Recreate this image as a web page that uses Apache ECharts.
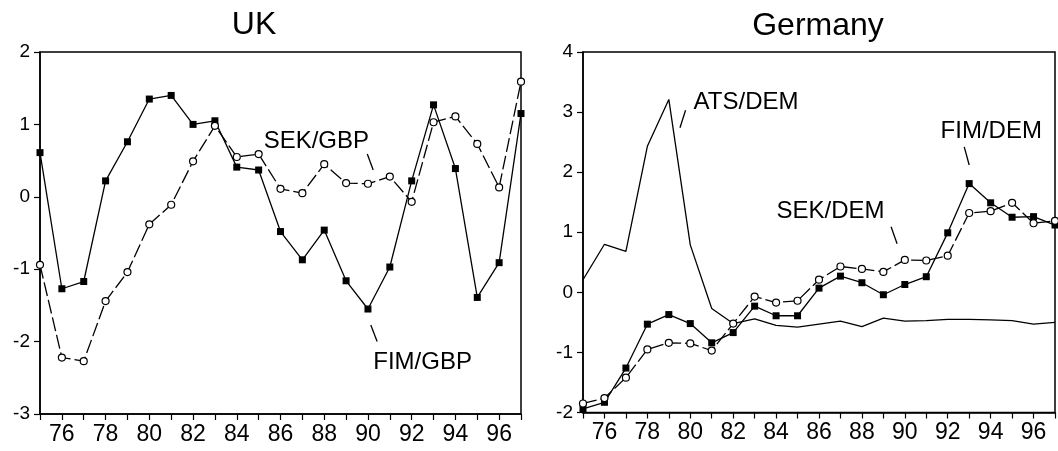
<!DOCTYPE html>
<html><head><meta charset="utf-8">
<script src="https://cdn.jsdelivr.net/npm/echarts@6/dist/echarts.min.js"></script>
<style>html,body{margin:0;padding:0;background:#fff}#c{width:1058px;height:451px}</style>
</head><body><div id="c"></div>
<script>
// ---- data ----
const years = [75,76,77,78,79,80,81,82,83,84,85,86,87,88,89,90,91,92,93,94,95,96,97];
const ukFIM = [0.61,-1.27,-1.17,0.22,0.76,1.35,1.40,1.00,1.05,0.41,0.37,-0.48,-0.87,-0.46,-1.16,-1.55,-0.97,0.22,1.27,0.39,-1.39,-0.91,1.15];
const ukSEK = [-0.94,-2.22,-2.27,-1.44,-1.04,-0.38,-0.11,0.49,0.98,0.55,0.59,0.11,0.05,0.45,0.19,0.18,0.28,-0.07,1.03,1.11,0.73,0.13,1.59];
const deATS = [0.21,0.80,0.68,2.43,3.21,0.79,-0.27,-0.52,-0.44,-0.55,-0.58,-0.53,-0.48,-0.57,-0.43,-0.48,-0.47,-0.45,-0.45,-0.46,-0.47,-0.53,-0.50];
const deFIM = [-1.94,-1.83,-1.26,-0.53,-0.37,-0.52,-0.84,-0.67,-0.23,-0.39,-0.39,0.07,0.27,0.16,-0.04,0.13,0.26,0.99,1.81,1.49,1.25,1.26,1.12];
const deSEK = [-1.85,-1.76,-1.42,-0.95,-0.84,-0.85,-0.97,-0.52,-0.07,-0.17,-0.14,0.21,0.43,0.39,0.34,0.54,0.53,0.61,1.32,1.35,1.49,1.15,1.19];
const titles = ['UK','Germany'];
const ukYTicks = {min:-3, max:2};
const deYTicks = {min:-2, max:4};
// annotation anchors, in data coordinates
const ukNotes = [
  {text:'SEK/GBP', at:[87.64,0.76], tick:[[89.97,0.59],[90.24,0.37]]},
  {text:'FIM/GBP', at:[92.5,-2.29], tick:[[90.13,-1.77],[90.42,-2.0]]}
];
const deNotes = [
  {text:'ATS/DEM', at:[82.6,3.16], tick:[[79.52,2.74],[79.78,3.03]]},
  {text:'SEK/DEM', at:[86.54,1.34], tick:[[89.36,1.09],[89.64,0.81]]},
  {text:'FIM/DEM', at:[94.03,2.68], tick:[[92.77,2.42],[93.0,2.12]]}
];

const FONT = '"Liberation Sans", Arial, sans-serif';
const pairs = a => years.map((y,i)=>[y,a[i]]);
function xAx(gi){
  return {type:'value', gridIndex:gi, min:75, max:97, interval:1,
    axisLine:{show:true,onZero:false,lineStyle:{color:'#000',width:1.5}},
    axisTick:{show:true,length:6,lineStyle:{color:'#000',width:1.2}},
    axisLabel:{fontSize:23,color:'#000',fontFamily:FONT,margin:9,
      formatter:v=> (v%2===0? String(v):'')},
    splitLine:{show:false}};
}
function yAx(gi,r){
  return {type:'value', gridIndex:gi, min:r.min, max:r.max, interval:1,
    axisLine:{show:true,onZero:false,lineStyle:{color:'#000',width:1.5}},
    axisTick:{show:true,length:6,lineStyle:{color:'#000',width:1.2}},
    axisLabel:{fontSize:19,color:'#000',fontFamily:FONT,margin:10},
    splitLine:{show:false}};
}
function sq(name,gi,arr){
  return {name,type:'line',xAxisIndex:gi,yAxisIndex:gi,data:pairs(arr),
    symbol:'rect',symbolSize:7,showAllSymbol:true,
    itemStyle:{color:'#000'},lineStyle:{color:'#000',width:1.3},z:3};
}
function circ(name,gi,arr){
  return {name,type:'line',xAxisIndex:gi,yAxisIndex:gi,data:pairs(arr),
    symbol:'circle',symbolSize:7,showAllSymbol:true,
    itemStyle:{color:'#fff',borderColor:'#000',borderWidth:1.2},
    lineStyle:{color:'#000',width:1.3,type:[14,4]},z:4};
}
const chart = echarts.init(document.getElementById('c'));
chart.setOption({
  animation:false,
  backgroundColor:'#fff',
  grid:[
    {left:40,top:52,width:481,height:362,show:true,borderColor:'#000',borderWidth:1.5,backgroundColor:'transparent'},
    {left:583,top:52,width:480.5,height:360.5,show:true,borderColor:'#000',borderWidth:1.5,backgroundColor:'transparent'}
  ],
  xAxis:[xAx(0),xAx(1)],
  yAxis:[yAx(0,ukYTicks),yAx(1,deYTicks)],
  series:[
    sq('FIM/GBP',0,ukFIM),
    circ('SEK/GBP',0,ukSEK),
    {name:'ATS/DEM',type:'line',xAxisIndex:1,yAxisIndex:1,data:pairs(deATS),symbol:'none',
      lineStyle:{color:'#000',width:1.3},z:2},
    sq('FIM/DEM',1,deFIM),
    circ('SEK/DEM',1,deSEK)
  ]
});
const g = [];
g.push({type:'text',style:{text:titles[0],x:254,y:25,font:'32px '+FONT,fill:'#000',align:'center',verticalAlign:'middle'}});
g.push({type:'text',style:{text:titles[1],x:818,y:26,font:'32px '+FONT,fill:'#000',align:'center',verticalAlign:'middle'}});
function addNotes(notes,gi){
  notes.forEach(n=>{
    const p = chart.convertToPixel({gridIndex:gi}, n.at);
    g.push({type:'text',z:10,style:{text:n.text,x:p[0],y:p[1],font:'24px '+FONT,fill:'#000',align:'center',verticalAlign:'middle'}});
    const a = chart.convertToPixel({gridIndex:gi}, n.tick[0]);
    const b = chart.convertToPixel({gridIndex:gi}, n.tick[1]);
    g.push({type:'line',z:10,shape:{x1:a[0],y1:a[1],x2:b[0],y2:b[1]},style:{stroke:'#000',lineWidth:1.3}});
  });
}
addNotes(ukNotes,0);
addNotes(deNotes,1);
chart.setOption({graphic:g});
</script>
</body></html>
